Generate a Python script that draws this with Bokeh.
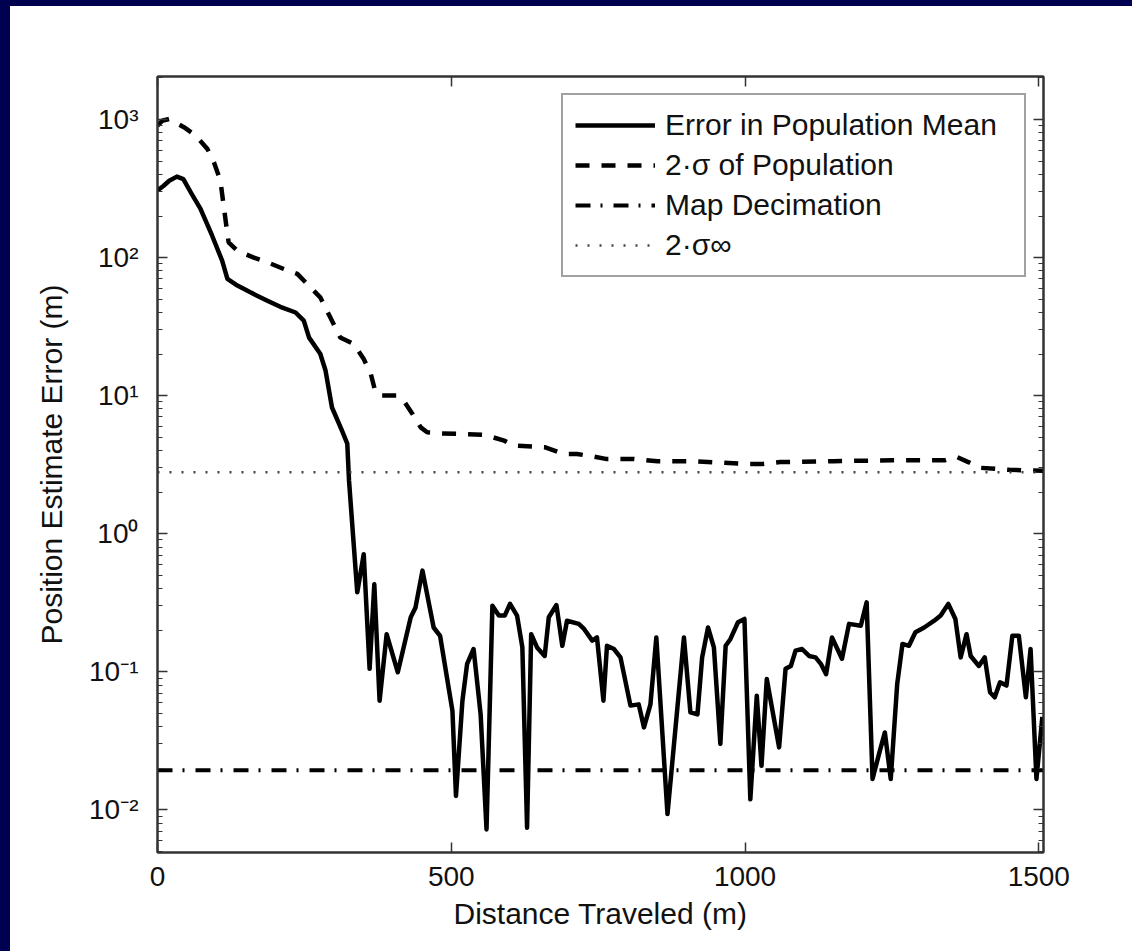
from bokeh.plotting import figure
from bokeh.models import LogAxis, LinearAxis, FixedTicker, Range1d, Legend, LegendItem
from bokeh.embed import file_html
from bokeh.resources import INLINE

# ---------------- data ----------------
dist_mean = [0, 10, 20, 33, 44, 58, 73, 93, 110, 119, 136, 158, 187, 209, 235, 249, 258, 277,
             286, 297, 314, 323, 326, 331, 340, 351, 361, 369, 378, 390, 409, 431, 439, 451,
             470, 481, 502, 508, 519, 527, 538, 550, 560, 570, 581, 591, 600, 612, 621, 629,
             636, 646, 659, 666, 679, 689, 697, 717, 726, 740, 748, 759, 765, 777, 788, 805,
             819, 828, 839, 849, 868, 896, 907, 919, 927, 937, 947, 958, 967, 975, 988, 999,
             1009, 1020, 1028, 1037, 1058, 1069, 1078, 1086, 1097, 1109, 1120, 1129, 1138,
             1148, 1165, 1177, 1197, 1207, 1217, 1228, 1238, 1248, 1259, 1268, 1279, 1290,
             1305, 1322, 1333, 1346, 1358, 1367, 1377, 1384, 1398, 1408, 1417, 1425, 1434,
             1445, 1455, 1466, 1478, 1486, 1496, 1506]
err_mean = [306, 330, 360, 386, 370, 290, 226, 144, 95, 70, 62.7, 56, 48.7, 44, 40, 34.9, 26.3, 20.1,
            15.2, 8.2, 5.57, 4.49, 2.42, 1.24, 0.376, 0.71, 0.105, 0.43, 0.0617, 0.187, 0.099, 0.248,
            0.29, 0.54, 0.209, 0.182, 0.052, 0.0126, 0.0617, 0.114, 0.146, 0.049, 0.0072, 0.30,
            0.255, 0.255, 0.31, 0.255, 0.15, 0.0074, 0.187, 0.15, 0.13, 0.248, 0.304, 0.154, 0.234,
            0.222, 0.204, 0.168, 0.177, 0.0617, 0.154, 0.146, 0.127, 0.0568, 0.058, 0.0395, 0.058,
            0.177, 0.0093, 0.177, 0.0508, 0.049, 0.127, 0.209, 0.15, 0.030, 0.154, 0.172, 0.228,
            0.241, 0.0119, 0.067, 0.0208, 0.0885, 0.0283, 0.105, 0.110, 0.142, 0.146, 0.13, 0.127,
            0.114, 0.096, 0.177, 0.124, 0.222, 0.215, 0.318, 0.0167, 0.0253, 0.0363, 0.0167,
            0.0815, 0.159, 0.154, 0.193, 0.209, 0.234, 0.255, 0.31, 0.241, 0.127, 0.187, 0.13,
            0.110, 0.127, 0.071, 0.0652, 0.0838, 0.0793, 0.182, 0.182, 0.0652, 0.146, 0.0167, 0.047]

dist_sigma = [0, 8, 20, 45, 65, 85, 96, 107, 116, 121, 136, 164, 187, 215, 238, 260, 277, 294,
              311, 334, 351, 363, 371, 380, 408, 419, 434, 448, 459, 482, 556, 590, 607, 660,
              692, 714, 743, 763, 811, 851, 919, 1000, 1030, 1060, 1150, 1250, 1340, 1360,
              1380, 1400, 1450, 1508]
sigma_pop = [900, 980, 1010, 880, 766, 612, 490, 361, 185, 129, 112, 100, 92.4, 82.7, 76.2, 61,
             51.5, 36.9, 26.4, 23.7, 18.4, 14.4, 10.6, 10, 10, 9.2, 7.37, 5.89, 5.42, 5.33, 5.21,
             4.72, 4.34, 4.22, 3.78, 3.78, 3.61, 3.48, 3.48, 3.34, 3.34, 3.2, 3.2, 3.3, 3.35, 3.4,
             3.4, 3.6, 3.3, 3.0, 2.9, 2.85]

decimation_level = 0.0193
sigma_inf_level = 2.78

series_labels = ["Error in Population Mean", "2·σ of Population", "Map Decimation", "2·σ∞"]
x_ticks = [0, 500, 1000, 1500]
y_ticks = [0.01, 0.1, 1, 10, 100, 1000]
y_tick_labels = ["10⁻²", "10⁻¹", "10⁰", "10¹", "10²", "10³"]
x_label = "Distance Traveled (m)"
y_label = "Position Estimate Error (m)"

X_MIN, X_MAX = 0, 1508
Y_MIN, Y_MAX = 0.0049, 2050

FONT = "Liberation Sans"
INK = "#111111"
FRAME = "#333333"

p = figure(width=1122, height=945, y_axis_type="log",
           x_range=Range1d(X_MIN, X_MAX), y_range=Range1d(Y_MIN, Y_MAX),
           output_backend="svg", toolbar_location=None,
           min_border_left=147, min_border_top=70, min_border_right=89, min_border_bottom=99)
p.background_fill_color = "white"
p.border_fill_color = "white"
p.grid.visible = False
p.outline_line_color = FRAME
p.outline_line_width = 2

minor_y = [m * 10.0 ** e for e in range(-3, 4) for m in range(2, 10)]
overrides = {t: lab for t, lab in zip(y_ticks, y_tick_labels)}


def style_axis(ax, minor=True):
    ax.axis_line_color = FRAME
    ax.axis_line_width = 2
    ax.major_tick_in = 10
    ax.major_tick_out = 0
    ax.major_tick_line_color = FRAME
    ax.major_tick_line_width = 1.5
    if minor:
        ax.minor_tick_in = 5
        ax.minor_tick_out = 0
        ax.minor_tick_line_color = FRAME
        ax.minor_tick_line_width = 1.2
    else:
        ax.minor_tick_line_color = None
    ax.major_label_text_font = FONT
    ax.major_label_text_font_size = "28px"
    ax.major_label_text_color = INK
    ax.axis_label_text_font = FONT
    ax.axis_label_text_font_size = "30px"
    ax.axis_label_text_font_style = "normal"
    ax.axis_label_text_color = INK


xax = p.xaxis[0]
xax.ticker = FixedTicker(ticks=x_ticks)
style_axis(xax, minor=False)
xax.axis_label = x_label
xax.major_label_standoff = 14
xax.axis_label_standoff = 8

yax = p.yaxis[0]
yax.ticker = FixedTicker(ticks=y_ticks, minor_ticks=minor_y)
style_axis(yax)
yax.major_label_overrides = overrides
yax.axis_label = y_label
yax.major_label_standoff = 19
yax.axis_label_standoff = 18

top = LinearAxis(ticker=FixedTicker(ticks=x_ticks))
style_axis(top, minor=False)
top.major_label_text_color = None
p.add_layout(top, "above")

right = LogAxis(ticker=FixedTicker(ticks=y_ticks, minor_ticks=minor_y))
style_axis(right)
right.major_label_text_color = None
p.add_layout(right, "right")

r_mean = p.line(dist_mean, err_mean, line_color="black", line_width=4.5, line_join="round")
r_sig = p.line(dist_sigma, sigma_pop, line_color="black", line_width=4.5, line_dash="14 12")
r_dec = p.line([X_MIN, X_MAX], [decimation_level, decimation_level], line_color="black",
               line_width=4, line_dash="15 10 2 11")
r_inf = p.line([X_MIN, X_MAX], [sigma_inf_level, sigma_inf_level], line_color="#444444",
               line_width=2.5, line_dash="2 10")

legend = Legend(items=[LegendItem(label=series_labels[0], renderers=[r_mean]),
                       LegendItem(label=series_labels[1], renderers=[r_sig]),
                       LegendItem(label=series_labels[2], renderers=[r_dec]),
                       LegendItem(label=series_labels[3], renderers=[r_inf])],
                location="top_right", margin=17, padding=12, spacing=4,
                glyph_width=80, glyph_height=36, label_height=36, label_width=347,
                label_standoff=10, label_text_font=FONT, label_text_font_size="30px",
                label_text_color=INK, border_line_color="#444444", border_line_width=2,
                background_fill_color="white", background_fill_alpha=1)
p.add_layout(legend)

html = file_html(p, INLINE)
html = html.replace("</head>",
                    "<style>html{margin:0;padding:0;background:#ffffff;}"
                    "body{margin:0;padding:0;background:#ffffff;"
                    "border-top:6px solid #000050;border-left:10px solid #000050;}"
                    "</style></head>", 1)
open("out.html", "w").write(html)
